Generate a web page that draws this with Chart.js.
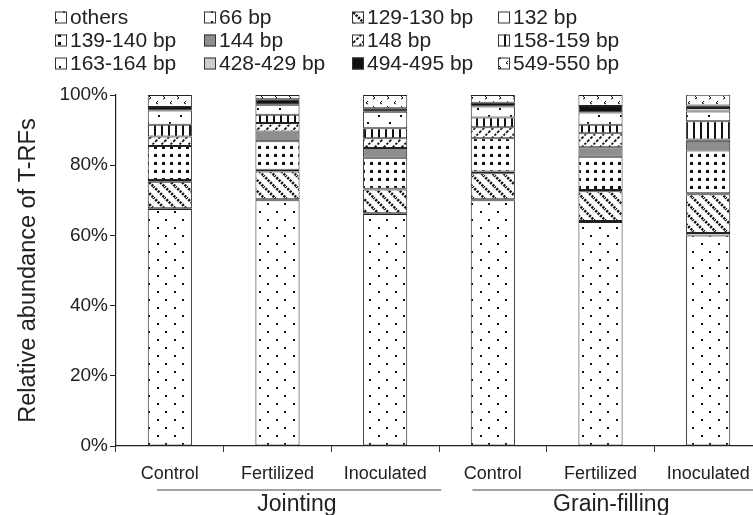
<!DOCTYPE html>
<html>
<head>
<meta charset="utf-8">
<script src="https://cdn.jsdelivr.net/npm/chart.js@4.4.1/dist/chart.umd.min.js"></script>
<style>
  html,body{margin:0;padding:0;background:#fff;overflow:hidden;width:753px;height:515px;}
  #wrap{position:absolute;left:0;top:0;width:770px;height:515px;}
</style>
</head>
<body>
<div id="wrap"><canvas id="c" width="770" height="515"></canvas></div>
<script>
// ---- data ----
const categories = ['Control','Fertilized','Inoculated','Control','Fertilized','Inoculated'];
const stages = ['Jointing','Grain-filling'];
const seriesNames = ['others','66 bp','129-130 bp','132 bp','139-140 bp','144 bp','148 bp','158-159 bp','163-164 bp','428-429 bp','494-495 bp','549-550 bp'];
const others   = [67.5, 70.0, 66.1, 70.0, 63.8, 60.0];
const bp66     = [0.2, 0.3, 0.2, 0.3, 0.3, 0.7];
const bp129    = [7.6, 7.9, 6.8, 7.4, 8.5, 11.0];
const bp132    = [0.5, 0.5, 0.2, 0.5, 0.3, 0.3];
const bp139    = [9.7, 8.1, 8.8, 9.5, 9.5, 12.2];
const bp144    = [0, 2.8, 2.8, 0, 2.7, 2.8];
const bp148    = [2.7, 2.4, 2.8, 3.1, 4.0, 0.3];
const bp158    = [3.3, 2.4, 2.8, 2.8, 2.4, 5.2];
const bp163    = [4.1, 2.8, 4.7, 3.1, 3.5, 2.8];
const bp428    = [0, 0, 0, 0, 0, 1.0];
const bp494    = [1.0, 1.6, 1.0, 1.1, 1.9, 0.7];
const bp549    = [3.4, 1.2, 3.8, 2.2, 3.1, 3.1];
const seriesValues = [others,bp66,bp129,bp132,bp139,bp144,bp148,bp158,bp163,bp428,bp494,bp549];
const yTicks = [0,20,40,60,80,100];

// ---- patterns ----
const canvas = document.getElementById('c');
const mainCtx = canvas.getContext('2d');
function pat(w,h,draw){
  const c=document.createElement('canvas'); c.width=w; c.height=h;
  const x=c.getContext('2d');
  x.fillStyle='#fff'; x.fillRect(0,0,w,h);
  x.fillStyle='#111'; x.strokeStyle='#111';
  draw(x,w,h);
  return mainCtx.createPattern(c,'repeat');
}
const fills = [
  pat(17,16,x=>{x.fillRect(4,3,2,2);x.fillRect(12,11,2,2);}),                 // others
  pat(10,10,x=>{x.fillRect(1,1,2,2);}),                                        // 66
  pat(11,11,(x,w,h)=>{x.lineWidth=2.6;x.setLineDash([2.2,1.2]);               // 129-130
    x.beginPath();x.moveTo(-1,-1);x.lineTo(w+1,h+1);x.stroke();
    x.beginPath();x.moveTo(-1,h-1);x.lineTo(1,h+1);x.stroke();
    x.beginPath();x.moveTo(w-1,-1);x.lineTo(w+1,1);x.stroke();}),
  '#ffffff',                                                                   // 132
  pat(8,8,x=>{x.fillRect(2,2,3,3);}),                                          // 139-140
  '#8e8e8e',                                                                   // 144
  pat(9,9,(x,w,h)=>{x.lineWidth=1.8;x.setLineDash([3,1.5]);                    // 148
    x.beginPath();x.moveTo(-1,h+1);x.lineTo(w+1,-1);x.stroke();
    x.beginPath();x.moveTo(-1,1);x.lineTo(1,-1);x.stroke();
    x.beginPath();x.moveTo(w-1,h+1);x.lineTo(w+1,h-1);x.stroke();}),
  pat(7,4,x=>{x.fillRect(0,0,2,4);}),                                          // 158-159
  pat(22,14,x=>{x.fillRect(4,3,2,2);x.fillRect(15,10,2,2);}),                  // 163-164
  '#cdcdcd',                                                                   // 428-429
  '#111111',                                                                   // 494-495
  pat(14,10,x=>{x.lineWidth=1;                                                 // 549-550
    x.beginPath();x.moveTo(4,1);x.lineTo(2,3);x.lineTo(4,4);x.stroke();
    x.beginPath();x.moveTo(9,6);x.lineTo(11,8);x.lineTo(9,9);x.stroke();})
];

const datasets = seriesNames.map((n,i)=>({
  label:n, data:seriesValues[i], backgroundColor:fills[i],
  borderColor:'#222', borderWidth:1, borderSkipped:false,
  barPercentage:0.41, categoryPercentage:1.0
}));

const FONT = "'Liberation Sans', Arial, sans-serif";

const legendPlugin = {
  id:'customLegend',
  afterDraw(chart){
    const ctx=chart.ctx;
    const colX=[55,204,352,498], rowY=[17,40,63];
    ctx.save();
    ctx.font='21px '+FONT; ctx.textBaseline='middle'; ctx.textAlign='left';
    seriesNames.forEach((n,i)=>{
      const cx=colX[i%4], cy=rowY[Math.floor(i/4)];
      ctx.fillStyle=fills[i]; ctx.fillRect(cx,cy-5.5,12,12);
      ctx.strokeStyle='#333'; ctx.lineWidth=1; ctx.strokeRect(cx+0.5,cy-5,11,11);
      ctx.fillStyle='#222'; ctx.fillText(n,cx+15,cy+1);
    });
    // group labels
    const xs=chart.scales.x;
    const left=xs.left, cw=(xs.right-xs.left)/categories.length;
    const groups=[{a:0.38,b:3.02,t:1.68},{a:3.31,b:5.93,t:4.6}];
    ctx.strokeStyle='#444'; ctx.lineWidth=1.2;
    ctx.font='23px '+FONT; ctx.textAlign='center'; ctx.fillStyle='#222';
    groups.forEach((g,i)=>{
      ctx.beginPath(); ctx.moveTo(left+g.a*cw,490); ctx.lineTo(left+g.b*cw,490); ctx.stroke();
      ctx.fillText(stages[i], left+g.t*cw, 505);
    });
    ctx.restore();
  }
};

new Chart(canvas,{
  type:'bar',
  data:{labels:categories,datasets},
  options:{
    responsive:false, animation:false, devicePixelRatio:1,
    layout:{padding:{top:95,right:8,left:0,bottom:0}},
    plugins:{legend:{display:false},tooltip:{enabled:false}},
    scales:{
      x:{stacked:true,
        grid:{offset:true,drawOnChartArea:false,tickLength:6,color:'#333'},
        border:{color:'#222',width:1.2},
        ticks:{color:'#222',font:{family:FONT,size:18},padding:11,maxRotation:0},
        afterFit(s){s.height=69;}
      },
      y:{stacked:true,min:0,max:100,
        afterBuildTicks(s){s.ticks=yTicks.map(v=>({value:v}));},
        grid:{drawOnChartArea:false,tickLength:6,color:'#222'},
        border:{color:'#222',width:1.2},
        ticks:{color:'#222',font:{family:FONT,size:19},padding:2,callback:v=>v+'%'},
        title:{display:true,text:'Relative abundance of T-RFs',color:'#222',font:{family:FONT,size:23.5},padding:{top:14,bottom:0}},
        afterFit(s){s.width=116;}
      }
    }
  },
  plugins:[legendPlugin]
});
</script>
</body>
</html>
